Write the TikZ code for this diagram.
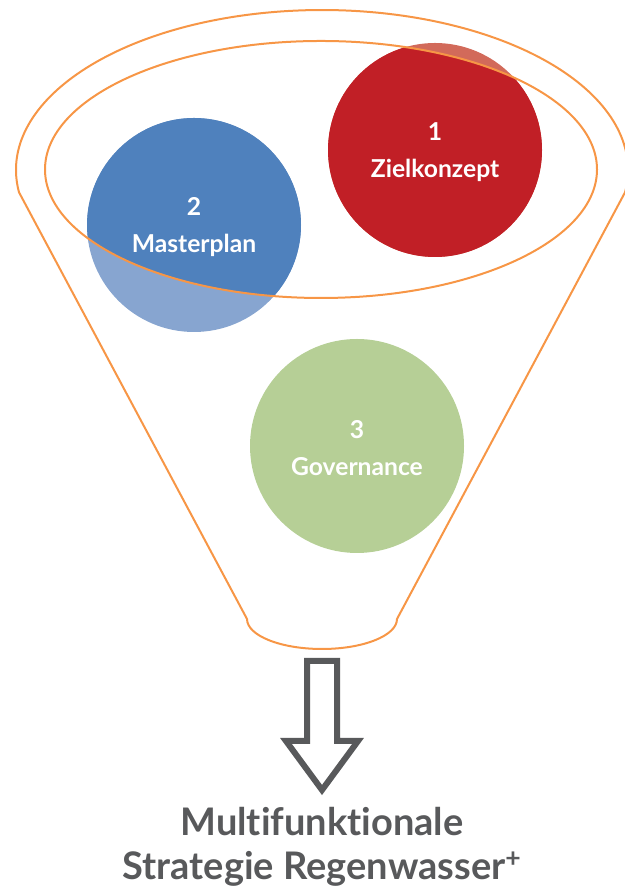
\documentclass[tikz,border=0pt]{standalone}
\usepackage{fontspec}
\setmainfont{Lato}[Ligatures=NoCommon]
\usetikzlibrary{positioning,calc}
\definecolor{funnelorange}{RGB}{247,150,70}
\definecolor{zielred}{RGB}{193,31,38}
\definecolor{zielredlt}{RGB}{210,106,90}
\definecolor{masterblue}{RGB}{79,129,189}
\definecolor{masterbluelt}{RGB}{135,165,208}
\definecolor{govgreen}{RGB}{182,207,150}
\definecolor{arrowgray}{RGB}{88,89,91}
\tikzstyle{bubble}=[circle, minimum size=160.5pt, inner sep=0pt]
\tikzstyle{btext}=[text=white, font=\fontsize{18.5}{27.5}\selectfont\bfseries,
                   align=center, inner sep=0pt]
\tikzstyle{fline}=[draw=funnelorange, line width=1.5pt]
\tikzstyle{parrow}=[draw=arrowgray, line width=4.5pt, miter limit=10]
\tikzstyle{rtext}=[text=arrowgray, font=\fontsize{28.5}{33.5}\selectfont\bfseries,
                   align=center, inner sep=0pt]

\begin{document}
\begin{tikzpicture}[x=0.75pt,y=0.75pt]
\useasboundingbox (0,0) rectangle (624,887);

\node (ZIEL) [bubble, fill=zielredlt] at (435,737) {};
\node (MASTER) [bubble, fill=masterbluelt] at (194,662) {};
\node (GOV) [bubble, fill=govgreen] at (357,441) {};
% darker inside the rim
\begin{scope}
 \clip (321,717.5) ellipse [x radius=276, y radius=128.5];
 \fill[zielred] (ZIEL.center) circle [radius=107];
 \fill[masterblue] (MASTER.center) circle [radius=107];
\end{scope}
\node (ZIELTXT) [btext] at ($(ZIEL)+(0,-2)$) {1\\Zielkonzept};
\node (MASTERTXT) [btext] at ($(MASTER)+(0,-2)$) {2\\Masterplan};
\node (GOVTXT) [btext] at ($(GOV)+(0,-2)$) {3\\Governance};

% funnel
\coordinate (RIML) at (19,694.7);
\draw[fline] (RIML) arc [start angle=188, end angle=-8, x radius=306, y radius=160]
 -- (397,268) arc [start angle=0, end angle=-180, x radius=75, y radius=30] -- cycle;
\draw[fline] (321,717.5) ellipse [x radius=276, y radius=128.5];

% outlet arrow
\coordinate (TIP) at (322,97);
\draw[parrow] (307,226) -- (337,226) -- (337,146) -- (358,146) -- (TIP)
 -- (286,146) -- (307,146) -- cycle;

\node (RESULT) [rtext, below=12.5pt of TIP]
 {Multifunktionale\\Strategie Regenwasser\textsuperscript{+}};

\end{tikzpicture}
\end{document}
